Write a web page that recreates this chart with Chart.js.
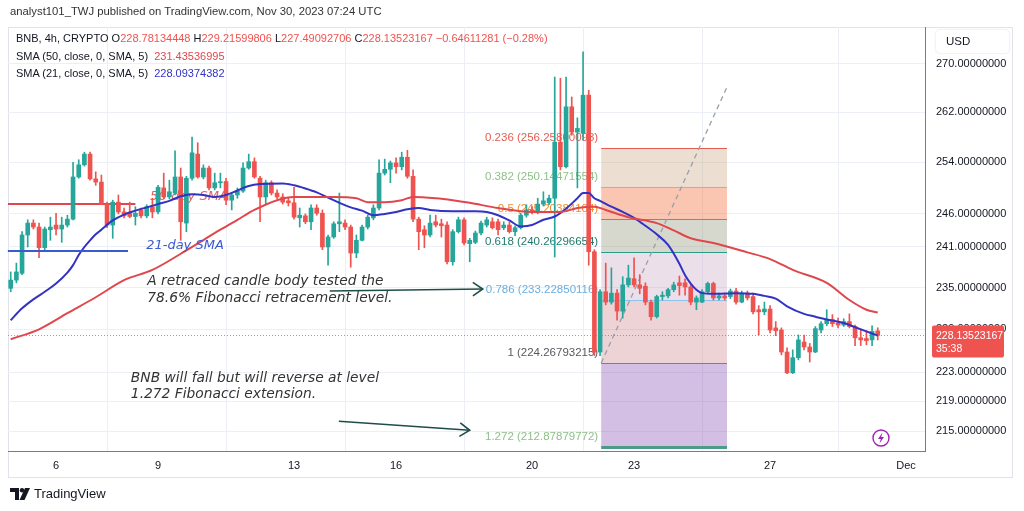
<!DOCTYPE html>
<html>
<head>
<meta charset="utf-8">
<script src="https://cdn.jsdelivr.net/npm/chart.js@4.4.0/dist/chart.umd.min.js"></script>
<style>
html, body { margin: 0; padding: 0; background: #fff; width: 1024px; height: 511px; overflow: hidden; }
body { font-family: "Liberation Sans", Arial, sans-serif; color: #131722; }
#frame { position: absolute; left: 8px; top: 27px; width: 1003px; height: 449px; border: 1px solid #e0e3eb; }
#c { position: absolute; left: 0; top: 0; }
.hdr { position: absolute; left: 10px; top: 5px; font-size: 11.3px; color: #333; }
.lg { position: absolute; left: 16px; top: 30px; font-size: 11px; line-height: 17.5px; color: #131722; }
.lg .r { color: #ef5350; }
.lg .s50 { color: #e0474c; }
.lg .s21 { color: #3232c4; }
.usd { position: absolute; left: 936px; top: 30px; width: 73px; height: 23px; background: #fff; border-radius: 4px;
       box-shadow: 0 0 2px rgba(0,0,0,.18); font-size: 11.5px; line-height: 23px; text-indent: 10px; color: #131722; }
.foot { position: absolute; left: 10px; top: 486px; font-size: 13px; color: #131722; display: flex; align-items: center; }
.foot svg { margin-right: 4px; }
</style>
</head>
<body>
<div id="frame"></div>
<canvas id="c" width="1024" height="511"></canvas>
<div class="hdr">analyst101_TWJ published on TradingView.com, Nov 30, 2023 07:24 UTC</div>
<div class="lg">
  <div>BNB, 4h, CRYPTO O<span class="r">228.78134448</span> H<span class="r">229.21599806</span> L<span class="r">227.49092706</span> C<span class="r">228.13523167</span> <span class="r">−0.64611281 (−0.28%)</span></div>
  <div>SMA (50, close, 0, SMA, 5)&nbsp; <span class="s50">231.43536995</span></div>
  <div>SMA (21, close, 0, SMA, 5)&nbsp; <span class="s21">228.09374382</span></div>
</div>
<div class="usd">USD</div>
<div class="foot">
  <svg width="20" height="12" viewBox="0 0 20 12"><path d="M0 0h9v12H5V4H0z" fill="#131722"/><circle cx="12" cy="2.2" r="2.2" fill="#131722"/><path d="M15 0h5l-5.5 12h-5z" fill="#131722"/></svg>
  <span>TradingView</span>
</div>
<script>
// 4h candles, index 0 = Nov 4 16:00 UTC, last = Nov 30 04:00 UTC
const candleOpen = [
  234.9, 236.1, 237.1, 242.8, 244.6, 244.0, 240.9, 243.6, 244.3, 243.7,
  244.3, 245.2, 251.7, 253.6, 255.3, 251.4, 250.9, 247.5, 244.3, 247.8,
  246.3, 246.1, 245.6, 246.6, 245.7, 247.1, 246.3, 250.0, 248.6, 249.2,
  251.7, 244.6, 251.5, 255.3, 251.7, 253.1, 250.0, 250.8, 251.0, 248.1,
  248.9, 249.5, 253.1, 254.1, 251.5, 248.6, 250.8, 249.2, 248.6, 248.0,
  247.7, 245.4, 245.7, 244.8, 246.9, 246.1, 241.0, 242.5, 244.5, 244.6,
  244.0, 240.1, 242.0, 244.0, 245.4, 246.9, 252.3, 252.9, 253.9, 253.3,
  254.8, 251.8, 245.2, 243.6, 242.8, 244.8, 244.5, 244.3, 238.8, 243.3,
  245.1, 241.5, 241.7, 243.1, 244.3, 244.8, 244.8, 243.9, 244.3, 243.3,
  243.9, 245.8, 246.6, 246.3, 247.5, 247.7, 248.4, 257.2, 253.3, 262.9,
  258.8, 258.6, 264.8, 240.3, 225.8, 234.4, 232.9, 234.2, 231.6, 235.4,
  236.3, 235.4, 235.2, 232.9, 230.8, 233.7, 233.8, 234.7, 235.7, 235.7,
  235.1, 232.9, 232.9, 234.4, 235.6, 233.5, 233.8, 233.7, 234.5, 232.9,
  234.2, 233.7, 231.8, 231.5, 231.9, 229.2, 228.9, 225.8, 222.9, 225.0,
  227.2, 226.5, 225.8, 228.9, 229.8, 230.4, 229.9, 229.6, 230.1, 229.4,
  227.8, 227.7, 227.5, 228.78134448
];
const candleHigh = [
  237.3, 238.6, 243.3, 245.1, 245.1, 244.6, 244.0, 245.5, 246.1, 245.5,
  245.8, 254.0, 254.4, 255.6, 255.6, 252.5, 252.0, 247.8, 248.1, 248.9,
  246.9, 247.8, 247.1, 246.9, 247.4, 248.4, 250.4, 252.3, 251.2, 255.8,
  253.1, 251.8, 258.0, 257.1, 253.6, 253.4, 252.3, 252.3, 251.5, 249.2,
  250.0, 253.9, 255.3, 254.7, 251.8, 251.2, 251.1, 249.7, 249.1, 248.4,
  250.1, 246.9, 246.0, 247.4, 247.4, 246.6, 242.8, 244.8, 249.2, 245.1,
  244.3, 242.8, 244.3, 245.8, 247.4, 254.4, 254.5, 254.2, 254.7, 255.6,
  255.9, 252.8, 245.5, 244.2, 245.8, 245.8, 245.2, 244.8, 243.6, 245.5,
  245.4, 242.3, 243.4, 244.9, 245.5, 245.4, 245.2, 244.8, 244.8, 244.2,
  246.1, 247.4, 247.1, 248.4, 249.4, 248.9, 267.8, 267.6, 267.8, 264.5,
  261.1, 272.0, 265.6, 240.6, 234.7, 238.6, 237.9, 234.7, 236.6, 238.3,
  239.4, 236.9, 235.7, 233.2, 233.9, 234.4, 234.9, 235.8, 236.7, 236.3,
  235.4, 233.8, 234.7, 235.8, 235.8, 234.2, 234.1, 234.8, 234.9, 234.5,
  234.5, 234.2, 232.4, 232.9, 232.4, 230.1, 229.2, 226.4, 226.1, 228.2,
  228.2, 227.0, 229.4, 230.1, 231.8, 231.1, 230.6, 230.5, 231.2, 229.6,
  228.9, 228.8, 229.5, 229.21599806
];
const candleLow = [
  234.4, 235.7, 236.9, 241.0, 243.7, 239.4, 240.6, 242.0, 242.8, 241.7,
  244.0, 245.1, 251.5, 253.4, 251.2, 250.4, 247.4, 243.9, 242.3, 246.0,
  245.4, 245.4, 244.3, 245.4, 245.4, 245.4, 246.0, 248.3, 248.3, 248.9,
  242.0, 243.3, 251.2, 251.5, 251.4, 249.7, 249.7, 250.0, 247.4, 246.6,
  248.4, 249.3, 252.9, 251.5, 244.8, 247.4, 248.9, 248.3, 247.5, 247.2,
  245.2, 244.0, 244.5, 243.6, 245.8, 240.6, 238.3, 242.3, 243.3, 243.6,
  238.0, 239.4, 241.9, 243.7, 245.1, 246.6, 252.0, 250.8, 252.3, 252.8,
  251.5, 244.8, 240.6, 240.9, 242.5, 244.0, 242.5, 238.5, 238.3, 243.1,
  241.3, 238.8, 241.5, 242.8, 244.0, 243.7, 242.8, 243.6, 243.1, 242.7,
  243.7, 245.5, 246.0, 246.0, 247.2, 247.4, 239.5, 252.8, 253.1, 258.3,
  250.0, 257.5, 238.3, 225.3, 225.3, 232.5, 232.6, 230.3, 230.6, 235.1,
  235.1, 234.1, 232.5, 230.3, 230.6, 233.2, 233.5, 234.4, 233.9, 233.9,
  232.5, 231.8, 232.8, 234.1, 233.2, 233.2, 233.2, 233.4, 232.6, 232.8,
  233.2, 231.2, 228.2, 231.1, 228.5, 228.1, 225.4, 222.8, 222.8, 224.7,
  226.1, 224.4, 225.7, 228.5, 229.5, 229.4, 229.2, 229.4, 229.2, 226.7,
  226.7, 226.8, 226.7, 227.49092706
];
const candleClose = [
  236.1, 237.3, 242.8, 244.6, 244.0, 240.9, 243.7, 244.0, 243.7, 244.3,
  245.2, 251.7, 253.6, 255.3, 251.4, 250.9, 247.5, 244.3, 247.8, 246.3,
  245.7, 245.6, 246.1, 245.7, 247.1, 246.3, 250.1, 248.6, 249.4, 251.7,
  244.8, 251.5, 255.5, 251.7, 253.1, 250.0, 250.8, 250.9, 248.1, 248.9,
  249.5, 253.1, 254.1, 251.7, 248.6, 250.8, 249.2, 248.6, 247.8, 247.7,
  245.5, 245.8, 244.8, 246.9, 246.1, 241.0, 242.5, 244.5, 244.8, 244.0,
  240.1, 242.0, 244.0, 245.5, 246.9, 252.3, 252.9, 253.9, 253.3, 254.8,
  251.8, 245.2, 243.3, 242.8, 244.6, 244.3, 244.2, 238.8, 243.3, 245.1,
  241.6, 242.0, 243.1, 244.6, 245.1, 243.9, 243.6, 244.3, 243.3, 243.9,
  245.8, 246.6, 246.3, 247.5, 248.0, 248.4, 257.2, 253.3, 262.9, 258.8,
  259.4, 264.8, 240.3, 225.8, 234.4, 232.9, 234.2, 231.6, 235.4, 236.4,
  235.4, 234.9, 232.9, 230.8, 233.7, 233.9, 234.7, 235.4, 235.3, 235.1,
  232.9, 233.5, 234.4, 235.6, 233.5, 233.8, 233.5, 234.5, 232.9, 234.2,
  233.5, 231.5, 231.5, 231.9, 228.9, 228.8, 225.8, 222.9, 225.0, 227.5,
  226.5, 225.8, 229.1, 229.8, 230.4, 229.8, 229.6, 230.1, 229.4, 227.8,
  227.5, 227.4, 228.7, 228.13523167
];

// moving averages (candle index, value)
const sma50Idx = [0, 5, 10, 15, 20, 25, 31, 37, 40, 43, 47, 50, 57, 61, 63, 66, 69, 71, 75, 78,
  81, 86, 92, 97, 100, 103, 105, 109, 114, 117, 120, 124, 130, 134, 138, 144, 148, 151, 153];
const sma50Val = [227.6, 229.0, 231.3, 233.6, 236.1, 237.6, 240.5, 243.6, 245.1, 246.6, 248.1, 248.6,
  248.6, 248.4, 247.8, 247.8, 248.1, 248.6, 248.4, 248.1, 247.7, 246.9, 246.3, 246.3, 246.9, 247.1,
  246.6, 245.5, 244.6, 243.5, 242.3, 241.6, 240.2, 239.2, 237.6, 235.7, 233.2, 231.8, 231.4];
const sma21Idx = [0, 2, 4, 6, 8, 10, 11, 12, 13, 14, 15, 16, 18, 20, 22, 24, 26, 28, 30, 32, 34, 36,
  38, 40, 42, 44, 48, 50, 52, 54, 56, 58, 60, 62, 64, 66, 68, 70, 72, 74, 78, 82, 84, 86, 88, 90, 92,
  94, 96, 98, 100, 101, 102, 103, 104, 106, 108, 110, 112, 114, 116, 118, 119, 120, 121, 122, 124,
  128, 131, 133, 135, 137, 140, 142, 144, 147, 149, 151, 153];
const sma21Val = [230.3, 232.0, 233.3, 234.4, 235.6, 237.2, 238.3, 239.8, 241.0, 242.0, 242.9, 243.6,
  245.0, 245.9, 246.5, 247.0, 247.5, 248.0, 248.7, 249.0, 248.9, 248.6, 248.9, 249.6, 250.3, 250.6,
  250.7, 250.4, 249.9, 249.3, 248.5, 247.7, 247.0, 246.5, 245.8, 246.0, 246.3, 246.7, 246.9, 246.6,
  246.4, 246.4, 246.3, 245.8, 245.0, 244.1, 244.3, 245.1, 245.6, 246.8, 248.4, 249.2, 249.2, 248.4,
  248.0, 247.1, 246.3, 245.4, 244.2, 242.9, 241.3, 238.5, 236.8, 235.6, 234.7, 234.2, 234.1, 234.2,
  234.1, 233.8, 233.4, 232.3, 231.2, 230.8, 230.4, 229.9, 229.3, 228.7, 228.1];

// fibonacci retracement drawn between candle 104.2 and 126.4
const fibLevels = ['0.236', '0.382', '0.5', '0.618', '0.786', '1', '1.272'];
const fibPrices = [256.25800093, 250.14471554, 245.20384104, 240.26296654, 233.22850116, 224.26793215, 212.87879772];
const fibSpan = [104.2, 126.4];
const fibTrend = [224.26793215, 266.13974995];

// axes
const yTicks = [215, 219, 223, 229, 235, 241, 246, 254, 262, 270];
const xTicks = [8, 26, 50, 68, 92, 110, 134, 158];
const xTickLabels = ['6', '9', '13', '16', '20', '23', '27', 'Dec'];

const GREEN = '#26a69a', RED = '#ef5350';
const fibLine = ['#e35d52', '#97c48f', '#e8663a', '#2a9a88', '#8cc3ec', '#85788f', '#4a9c89'];
const fibText = ['#e35d52', '#8fc08a', '#f08a2c', '#217a6b', '#6aaee0', '#55585f', '#8fc08a'];
const fibFill = ['rgba(200,160,120,0.34)', 'rgba(242,120,70,0.42)', 'rgba(130,135,100,0.32)',
  'rgba(190,150,185,0.3)', 'rgba(195,110,115,0.3)', 'rgba(150,100,190,0.42)'];
const NOTE = '#333333', ARROW = '#1f4e48';
const ITALIC = 'italic 13px "DejaVu Sans", Verdana, sans-serif';
const NOTE_FONT = 'italic 13.8px "DejaVu Sans", Verdana, sans-serif';

const isUp = i => candleClose[i] >= candleOpen[i];
const candleColor = ctx => isUp(ctx.dataIndex) ? GREEN : RED;

function drawArrow(ctx, x1, y1, x2, y2) {
    ctx.beginPath();
    ctx.moveTo(x1, y1);
    ctx.lineTo(x2, y2);
    ctx.stroke();
    const a = Math.atan2(y2 - y1, x2 - x1), L = 12;
    ctx.beginPath();
    ctx.moveTo(x2 - L * Math.cos(a - 0.6), y2 - L * Math.sin(a - 0.6));
    ctx.lineTo(x2, y2);
    ctx.lineTo(x2 - L * Math.cos(a + 0.6), y2 - L * Math.sin(a + 0.6));
    ctx.stroke();
}

const drawings = {
    id: 'drawings',
    beforeDatasetsDraw(chart) {
        const { ctx, chartArea: a, scales: { x, y } } = chart;
        ctx.save();
        ctx.beginPath();
        ctx.rect(a.left, a.top, a.right - a.left, a.bottom - a.top);
        ctx.clip();

        // fib zones
        const xl = x.getPixelForValue(fibSpan[0]), xr = x.getPixelForValue(fibSpan[1]);
        for (let k = 0; k < fibPrices.length - 1; k++) {
            const y1 = y.getPixelForValue(fibPrices[k]), y2 = y.getPixelForValue(fibPrices[k + 1]);
            ctx.fillStyle = fibFill[k];
            ctx.fillRect(xl, y1, xr - xl, y2 - y1);
        }
        fibPrices.forEach((p, k) => {
            const yy = Math.round(y.getPixelForValue(p)) + 0.5;
            ctx.strokeStyle = fibLine[k];
            ctx.lineWidth = k === fibPrices.length - 1 ? 3 : 1;
            ctx.beginPath();
            ctx.moveTo(xl, yy);
            ctx.lineTo(xr, yy);
            ctx.stroke();
            ctx.font = '11.5px "Liberation Sans", Arial, sans-serif';
            ctx.fillStyle = fibText[k];
            ctx.textAlign = 'right';
            ctx.textBaseline = 'middle';
            ctx.fillText(fibLevels[k] + ' (' + p.toFixed(8) + ')', xl - 3, yy - 10.5);
        });

        // fib trend line
        ctx.strokeStyle = '#9a9ea8';
        ctx.lineWidth = 1.3;
        ctx.setLineDash([5, 4]);
        ctx.beginPath();
        ctx.moveTo(xl, y.getPixelForValue(fibTrend[0]));
        ctx.lineTo(xr, y.getPixelForValue(fibTrend[1]));
        ctx.stroke();
        ctx.setLineDash([]);

        // 50-day SMA tag (sits behind the candles)
        ctx.strokeStyle = '#e0474c';
        ctx.lineWidth = 2;
        ctx.beginPath();
        ctx.moveTo(x.getPixelForValue(-0.5), y.getPixelForValue(247.5));
        ctx.lineTo(x.getPixelForValue(22), y.getPixelForValue(247.5));
        ctx.stroke();
        ctx.font = ITALIC;
        ctx.fillStyle = 'rgba(214,70,70,0.85)';
        ctx.textAlign = 'left';
        ctx.textBaseline = 'middle';
        ctx.fillText('50-day SMA', x.getPixelForValue(24.6), y.getPixelForValue(248.6));
        ctx.restore();
    },
    afterDatasetsDraw(chart) {
        const { ctx, chartArea: a, scales: { x, y } } = chart;
        ctx.save();

        // last price line
        const yp = Math.round(y.getPixelForValue(candleClose[candleClose.length - 1])) + 0.5;
        ctx.strokeStyle = 'rgba(239,83,80,0.75)';
        ctx.lineWidth = 1;
        ctx.setLineDash([1, 2]);
        ctx.beginPath();
        ctx.moveTo(a.left, yp);
        ctx.lineTo(a.right, yp);
        ctx.stroke();
        ctx.setLineDash([]);

        // 21-day SMA tag
        ctx.strokeStyle = '#3a5ad0';
        ctx.lineWidth = 2;
        ctx.beginPath();
        ctx.moveTo(x.getPixelForValue(-0.5), y.getPixelForValue(240.4));
        ctx.lineTo(x.getPixelForValue(20.7), y.getPixelForValue(240.4));
        ctx.stroke();
        ctx.font = ITALIC;
        ctx.fillStyle = '#3a5ad0';
        ctx.textAlign = 'left';
        ctx.textBaseline = 'middle';
        ctx.fillText('21-day SMA', x.getPixelForValue(23.9), y.getPixelForValue(241.15));

        // notes
        ctx.font = NOTE_FONT;
        ctx.fillStyle = NOTE;
        const note1 = y.getPixelForValue(235.96);
        ctx.fillText('A retraced candle body tested the', x.getPixelForValue(24.1), note1);
        ctx.fillText('78.6% Fibonacci retracement level.', x.getPixelForValue(24.1), note1 + 17);
        const note2 = y.getPixelForValue(222.18);
        ctx.fillText('BNB will fall but will reverse at level', x.getPixelForValue(21.2), note2);
        ctx.fillText('1.272 Fibonacci extension.', x.getPixelForValue(21.2), note2 + 16);

        // arrows
        ctx.strokeStyle = ARROW;
        ctx.lineWidth = 1.6;
        drawArrow(ctx, x.getPixelForValue(56.3), y.getPixelForValue(234.5), x.getPixelForValue(83.3), y.getPixelForValue(234.8));
        drawArrow(ctx, x.getPixelForValue(57.9), y.getPixelForValue(216.3), x.getPixelForValue(81.0), y.getPixelForValue(215.1));

        // lightning badge
        const cx = a.right - 44, cy = a.bottom - 13;
        ctx.strokeStyle = '#9c27b0';
        ctx.lineWidth = 1.4;
        ctx.beginPath();
        ctx.arc(cx, cy, 8, 0, Math.PI * 2);
        ctx.stroke();
        ctx.fillStyle = '#9c27b0';
        ctx.beginPath();
        ctx.moveTo(cx + 1.5, cy - 5.5);
        ctx.lineTo(cx - 3, cy + 1);
        ctx.lineTo(cx - 0.2, cy + 1);
        ctx.lineTo(cx - 1.5, cy + 5.5);
        ctx.lineTo(cx + 3, cy - 1);
        ctx.lineTo(cx + 0.2, cy - 1);
        ctx.closePath();
        ctx.fill();
        ctx.restore();
    },
    afterDraw(chart) {
        const { ctx, chartArea: a, scales: { y } } = chart;
        const yp = y.getPixelForValue(candleClose[candleClose.length - 1]);
        ctx.save();
        ctx.fillStyle = RED;
        ctx.beginPath();
        ctx.roundRect(a.right + 7, yp - 10, 72, 32, 2);
        ctx.fill();
        ctx.fillStyle = '#fff';
        ctx.font = '10.5px "Liberation Sans", Arial, sans-serif';
        ctx.textAlign = 'left';
        ctx.textBaseline = 'middle';
        ctx.fillText(candleClose[candleClose.length - 1].toFixed(8), a.right + 11, yp + 1);
        ctx.fillText('35:38', a.right + 11, yp + 14);
        ctx.restore();
    }
};

const bodies = candleClose.map((c, i) => ({ x: i, y: [candleOpen[i], c] }));
const wicks = candleClose.map((c, i) => ({ x: i, y: [candleLow[i], candleHigh[i]] }));
const sma50 = sma50Idx.map((i, k) => ({ x: i, y: sma50Val[k] }));
const sma21 = sma21Idx.map((i, k) => ({ x: i, y: sma21Val[k] }));

const axisFont = { family: '"Liberation Sans", Arial, sans-serif', size: 11 };

new Chart(document.getElementById('c').getContext('2d'), {
    type: 'bar',
    data: {
        datasets: [
            {
                type: 'line', data: sma50, borderColor: '#e0474c', borderWidth: 2,
                pointRadius: 0, cubicInterpolationMode: 'monotone', order: 0
            },
            {
                type: 'line', data: sma21, borderColor: '#3232c4', borderWidth: 2,
                pointRadius: 0, cubicInterpolationMode: 'monotone', order: 0
            },
            {
                data: bodies, backgroundColor: candleColor, barThickness: 4,
                minBarLength: 1, grouped: false, order: 1
            },
            {
                data: wicks, backgroundColor: candleColor, barThickness: 1,
                grouped: false, order: 2
            },
        ]
    },
    options: {
        responsive: false,
        animation: false,
        layout: { padding: { left: 8, top: 27, right: 12, bottom: 34 } },
        plugins: {
            legend: { display: false },
            tooltip: { enabled: false }
        },
        scales: {
            x: {
                type: 'linear',
                min: -0.48,
                max: 161.34,
                offset: false,
                afterBuildTicks: s => { s.ticks = xTicks.map(v => ({ value: v })); },
                afterFit: s => { s.height = 26; },
                ticks: {
                    autoSkip: false, maxRotation: 0, padding: 8, color: '#131722', font: axisFont,
                    callback: (v, i) => xTickLabels[i]
                },
                grid: { color: '#eceff5', drawTicks: false },
                border: { color: '#787b86' }
            },
            y: {
                type: 'logarithmic',
                position: 'right',
                min: 212.35,
                max: 276.24,
                afterBuildTicks: s => { s.ticks = yTicks.map(v => ({ value: v })); },
                afterFit: s => { s.width = 87; },
                ticks: {
                    padding: 11, color: '#131722', font: axisFont,
                    callback: v => Number(v).toFixed(8)
                },
                grid: { color: '#eceff5', drawTicks: false },
                border: { color: '#787b86' }
            }
        }
    },
    plugins: [drawings]
});
</script>
</body>
</html>
